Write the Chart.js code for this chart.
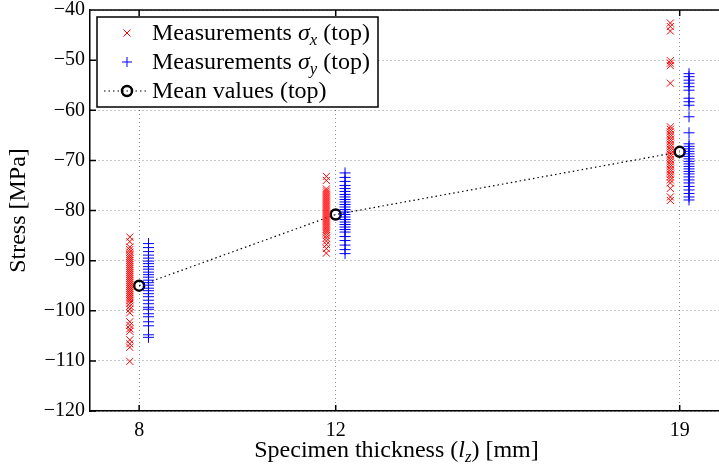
<!DOCTYPE html>
<html>
<head>
<meta charset="utf-8">
<script src="https://cdn.jsdelivr.net/npm/chart.js@4.4.0/dist/chart.umd.min.js"></script>
<style>
    html, body { margin: 0; padding: 0; background: #fff; overflow: hidden; }
</style>
</head>
<body>
<canvas id="stressChart" width="719" height="470"></canvas>
<script>
const FONT = 'Liberation Serif';

const thicknessTicks = [8, 12, 19];
const stressTicks = [-120, -110, -100, -90, -80, -70, -60, -50, -40];

// sigma_x measurements (top) per specimen thickness, MPa
const sigmaX8 = [-85.3, -86.2, -87.3, -87.8, -88.3, -88.8, -89.2, -89.6, -90.0, -90.4, -90.8, -91.2,
    -91.6, -92.0, -92.4, -92.8, -93.2, -93.6, -94.0, -94.4, -94.8, -95.2, -95.6, -96.0, -96.4,
    -96.8, -97.2, -97.6, -98.0, -98.5, -99.1, -99.7, -100.4, -102.2, -102.9, -103.6, -104.1,
    -105.8, -106.6, -107.3, -110.1];
const sigmaX12 = [-73.2, -74.0, -75.7, -76.1, -76.5, -76.9, -77.3, -77.7, -78.1, -78.5, -78.9, -79.3,
    -79.7, -80.1, -80.5, -80.9, -81.3, -81.7, -82.1, -82.5, -82.9, -83.3, -83.7, -84.1, -84.5,
    -85.0, -85.5, -86.1, -86.8, -87.6, -88.5];
const sigmaX19 = [-42.6, -43.3, -44.2, -50.1, -50.6, -51.1, -54.6, -63.3, -63.8, -64.3, -64.8, -65.3,
    -65.8, -66.3, -66.8, -67.3, -67.8, -68.3, -68.8, -69.3, -69.8, -70.3, -70.8, -71.3, -71.8,
    -72.3, -72.8, -73.3, -73.9, -74.5, -75.6, -77.3, -78.0];

// sigma_y measurements (top) per specimen thickness, MPa
const sigmaY8 = [-86.6, -87.4, -88.2, -88.9, -89.5, -90.1, -90.6, -91.2, -91.7, -92.3, -92.8, -93.3,
    -93.9, -94.4, -94.9, -95.5, -96.0, -96.6, -97.2, -97.9, -98.6, -99.3, -99.7, -100.6, -101.2,
    -102.2, -103.0, -104.8, -105.3];
const sigmaY12 = [-72.5, -73.4, -74.2, -75.0, -75.6, -76.2, -76.8, -77.3, -77.8, -78.3, -78.8, -79.3,
    -79.8, -80.3, -80.8, -81.3, -81.8, -82.3, -82.8, -83.3, -83.8, -84.3, -85.2, -86.0, -86.9,
    -87.8, -88.6];
const sigmaY19 = [-52.7, -53.3, -54.0, -54.6, -55.3, -56.0, -57.6, -58.3, -59.0, -61.3, -64.5, -66.7,
    -67.2, -67.7, -68.2, -68.7, -69.2, -69.7, -70.2, -70.7, -71.2, -71.7, -72.2, -72.7, -73.3,
    -73.9, -74.5, -75.2, -75.9, -76.6, -77.3, -77.9];

const meanStress = [-95.0, -80.8, -68.3];

// the two components sit slightly left/right of the nominal thickness
const SPREAD = 0.19;

function columnPoints(lists, shift) {
    const out = [];
    lists.forEach((vals, i) => {
        vals.forEach(v => out.push({ x: thicknessTicks[i] + shift, y: v }));
    });
    return out;
}

const minus = v => String(v).replace('-', '\u2212');

// draws text made of plain / italic / subscript pieces
function richWidth(ctx, parts, size) {
    let w = 0;
    for (const [t, s] of parts) {
        const sz = s === 'sub' ? size * 0.7 : size;
        ctx.font = `${s ? 'italic ' : ''}${sz}px "${FONT}"`;
        w += ctx.measureText(t).width;
    }
    return w;
}

function drawRich(ctx, parts, x, y, size, align) {
    let cx = align === 'center' ? x - richWidth(ctx, parts, size) / 2 : x;
    ctx.textBaseline = 'alphabetic';
    ctx.textAlign = 'left';
    ctx.fillStyle = '#000';
    for (const [t, s] of parts) {
        const sz = s === 'sub' ? size * 0.7 : size;
        ctx.font = `${s ? 'italic ' : ''}${sz}px "${FONT}"`;
        ctx.fillText(t, cx, s === 'sub' ? y + size * 0.2 : y);
        cx += ctx.measureText(t).width;
    }
}

// no extra room for overhanging tick labels: the plot box is fixed
function noPadding(s) {
    s.paddingLeft = 0;
    s.paddingRight = 0;
    s.paddingTop = 0;
    s.paddingBottom = 0;
}

const frame = {
    id: 'frame',
    afterDraw(chart) {
        const { ctx, chartArea: a, scales: { x, y } } = chart;
        ctx.save();
        ctx.strokeStyle = '#000';
        ctx.lineWidth = 1.5;
        ctx.beginPath();
        ctx.moveTo(a.left, a.top);
        ctx.lineTo(a.right, a.top);
        // inward tick marks
        for (const v of stressTicks) {
            const py = y.getPixelForValue(v);
            ctx.moveTo(a.left, py);
            ctx.lineTo(a.left + 6, py);
        }
        for (const v of thicknessTicks) {
            const px = x.getPixelForValue(v);
            ctx.moveTo(px, a.bottom);
            ctx.lineTo(px, a.bottom - 6);
            ctx.moveTo(px, a.top);
            ctx.lineTo(px, a.top + 6);
        }
        ctx.stroke();

        // x axis title with subscript
        drawRich(ctx, [['Specimen thickness ('], ['l', 'i'], ['z', 'sub'], [') [mm]']],
            (a.left + a.right) / 2 - 8, 457, 24, 'center');

        // legend
        const box = { left: 97, top: 17, right: 378, bottom: 107 };
        ctx.fillStyle = '#fff';
        ctx.fillRect(box.left, box.top, box.right - box.left, box.bottom - box.top);
        ctx.strokeRect(box.left, box.top, box.right - box.left, box.bottom - box.top);

        const rows = [
            { y: 33, parts: [['Measurements '], ['σ', 'i'], ['x', 'sub'], [' (top)']] },
            { y: 62, parts: [['Measurements '], ['σ', 'i'], ['y', 'sub'], [' (top)']] },
            { y: 91, parts: [['Mean values (top)']] }
        ];
        const mx = 127;

        ctx.lineWidth = 1;
        ctx.strokeStyle = '#ff0000';
        Chart.helpers.drawPoint(ctx, { pointStyle: 'crossRot', radius: 5, borderWidth: 1, rotation: 0 }, mx, rows[0].y);
        ctx.strokeStyle = '#0000ff';
        Chart.helpers.drawPoint(ctx, { pointStyle: 'cross', radius: 5, borderWidth: 1, rotation: 0 }, mx, rows[1].y);

        ctx.strokeStyle = '#000';
        ctx.setLineDash([1.5, 3]);
        ctx.lineWidth = 1.2;
        ctx.beginPath();
        ctx.moveTo(104, rows[2].y);
        ctx.lineTo(148, rows[2].y);
        ctx.stroke();
        ctx.setLineDash([]);
        ctx.lineWidth = 2.5;
        ctx.beginPath();
        ctx.arc(mx, rows[2].y, 5, 0, Math.PI * 2);
        ctx.stroke();

        for (const r of rows) drawRich(ctx, r.parts, 152, r.y + 7, 24);
        ctx.restore();
    }
};

new Chart(document.getElementById('stressChart'), {
    type: 'scatter',
    data: {
        datasets: [
            {
                label: 'Measurements σx (top)',
                data: columnPoints([sigmaX8, sigmaX12, sigmaX19], -SPREAD),
                pointStyle: 'crossRot',
                pointRadius: 5,
                pointBorderWidth: 1,
                borderColor: '#ff0000',
                backgroundColor: '#ff0000'
            },
            {
                label: 'Measurements σy (top)',
                data: columnPoints([sigmaY8, sigmaY12, sigmaY19], SPREAD),
                pointStyle: 'cross',
                pointRadius: 5.5,
                pointBorderWidth: 1,
                borderColor: '#0000ff',
                backgroundColor: '#0000ff'
            },
            {
                label: 'Mean values (top)',
                data: meanStress.map((v, i) => ({ x: thicknessTicks[i], y: v })),
                showLine: true,
                borderColor: '#000',
                borderWidth: 1.2,
                borderDash: [1.5, 3],
                pointStyle: 'circle',
                pointRadius: 5,
                pointBorderWidth: 2.5,
                pointBorderColor: '#000',
                pointBackgroundColor: 'rgba(0,0,0,0)'
            }
        ]
    },
    options: {
        responsive: false,
        animation: false,
        devicePixelRatio: 1,
        layout: { autoPadding: false, padding: { top: 10, right: 0, left: 0, bottom: 0 } },
        plugins: {
            legend: { display: false },
            tooltip: { enabled: false }
        },
        scales: {
            x: {
                type: 'linear',
                min: 7,
                max: 19.8,
                afterBuildTicks: s => { s.ticks = thicknessTicks.map(v => ({ value: v })); },
                afterFit: s => { s.height = 59; noPadding(s); },
                grid: { color: 'rgba(0,0,0,0.45)', lineWidth: 1, drawTicks: false, tickLength: 0 },
                border: { color: '#000', width: 1.5, dash: [1, 3] },
                ticks: {
                    padding: 8,
                    color: '#000',
                    font: { family: FONT, size: 20 }
                }
            },
            y: {
                min: -120,
                max: -40,
                afterBuildTicks: s => { s.ticks = stressTicks.map(v => ({ value: v })); },
                afterFit: s => { s.width = 90; noPadding(s); },
                grid: { color: 'rgba(0,0,0,0.45)', lineWidth: 1, drawTicks: false, tickLength: 0 },
                border: { color: '#000', width: 1.5, dash: [1, 3] },
                ticks: {
                    padding: 5,
                    color: '#000',
                    font: { family: FONT, size: 20 },
                    callback: v => minus(v)
                },
                title: {
                    display: true,
                    text: 'Stress [MPa]',
                    color: '#000',
                    font: { family: FONT, size: 24 },
                    padding: { top: 4, bottom: 0 }
                }
            }
        }
    },
    plugins: [frame]
});
</script>
</body>
</html>
